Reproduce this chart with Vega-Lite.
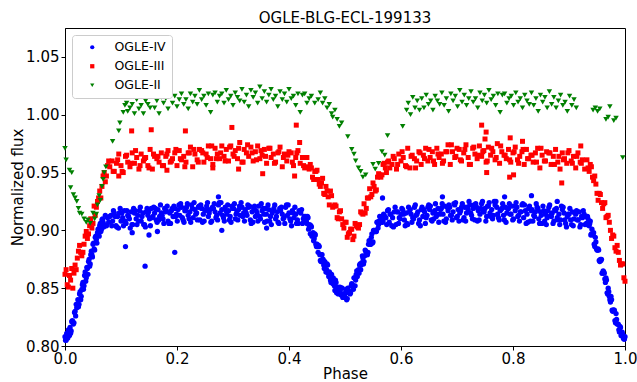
{
"$schema": "https://vega.github.io/schema/vega-lite/v6.json",
"width": 560, "height": 318,
"autosize": {"type": "none"},
"padding": {"left": 65, "top": 28, "right": 12, "bottom": 36},
"background": "white",
"title": {"text": "OGLE-BLG-ECL-199133", "fontSize": 15, "font": "DejaVu Sans", "fontWeight": "normal", "color": "black", "offset": 2, "anchor": "middle"},
"config": {
 "view": {"stroke": "black", "strokeWidth": 1},
 "axis": {"grid": false, "domainColor": "black", "tickColor": "black", "tickSize": 4, "labelColor": "black", "labelFont": "DejaVu Sans", "labelFontSize": 15, "titleFont": "DejaVu Sans", "titleFontSize": 15, "titleFontWeight": "normal", "titleColor": "black", "labelPadding": 2, "labelFlush": false, "labelOverlap": false},
 "legend": {"padding": 6, "rowPadding": 6, "symbolSize": 18, "labelFontSize": 12.5, "labelFont": "DejaVu Sans", "labelColor": "black", "strokeColor": "#cccccc", "fillColor": "white", "cornerRadius": 3, "symbolOffset": 8, "labelOffset": 16}
},
"datasets": {
"iv": [
{"p":0,"f":0.808},{"p":0.002,"f":0.805},{"p":0.004,"f":0.809},{"p":0.006,"f":0.814},{"p":0.008,"f":0.809},{"p":0.01,"f":0.811},{"p":0.012,"f":0.821},{"p":0.014,"f":0.821},{"p":0.016,"f":0.82},{"p":0.018,"f":0.83},{"p":0.02,"f":0.836},{"p":0.022,"f":0.834},{"p":0.024,"f":0.834},{"p":0.026,"f":0.845},{"p":0.028,"f":0.84},{"p":0.03,"f":0.849},{"p":0.032,"f":0.855},{"p":0.034,"f":0.852},{"p":0.036,"f":0.864},{"p":0.038,"f":0.859},{"p":0.04,"f":0.867},{"p":0.042,"f":0.873},{"p":0.044,"f":0.869},{"p":0.046,"f":0.879},{"p":0.048,"f":0.879},{"p":0.05,"f":0.888},{"p":0.052,"f":0.884},{"p":0.054,"f":0.894},{"p":0.056,"f":0.892},{"p":0.058,"f":0.898},{"p":0.06,"f":0.896},{"p":0.062,"f":0.904},{"p":0.064,"f":0.899},{"p":0.066,"f":0.909},{"p":0.068,"f":0.907},{"p":0.07,"f":0.905},{"p":0.072,"f":0.913},{"p":0.074,"f":0.904},{"p":0.076,"f":0.911},{"p":0.078,"f":0.907},{"p":0.08,"f":0.912},
{"p":0.001,"f":0.805},{"p":0.003,"f":0.811},{"p":0.005,"f":0.807},{"p":0.007,"f":0.813},{"p":0.009,"f":0.816},{"p":0.011,"f":0.813},{"p":0.013,"f":0.822},{"p":0.015,"f":0.819},{"p":0.017,"f":0.829},{"p":0.019,"f":0.826},{"p":0.021,"f":0.833},{"p":0.023,"f":0.84},{"p":0.025,"f":0.836},{"p":0.027,"f":0.847},{"p":0.029,"f":0.843},{"p":0.031,"f":0.853},{"p":0.033,"f":0.849},{"p":0.035,"f":0.861},{"p":0.037,"f":0.856},{"p":0.039,"f":0.868},{"p":0.041,"f":0.862},{"p":0.043,"f":0.875},{"p":0.045,"f":0.871},{"p":0.047,"f":0.882},{"p":0.049,"f":0.877},{"p":0.051,"f":0.889},{"p":0.053,"f":0.883},{"p":0.055,"f":0.895},{"p":0.057,"f":0.889},{"p":0.059,"f":0.901},{"p":0.061,"f":0.895},{"p":0.063,"f":0.906},{"p":0.065,"f":0.901},{"p":0.067,"f":0.91},{"p":0.069,"f":0.903},
{"p":0.082,"f":0.913},{"p":0.085,"f":0.908},{"p":0.088,"f":0.915},{"p":0.091,"f":0.904},{"p":0.094,"f":0.912},{"p":0.097,"f":0.915},{"p":0.1,"f":0.908},{"p":0.103,"f":0.911},{"p":0.106,"f":0.917},{"p":0.109,"f":0.906},{"p":0.112,"f":0.913},{"p":0.115,"f":0.91},{"p":0.118,"f":0.916},{"p":0.121,"f":0.905},{"p":0.124,"f":0.915},{"p":0.127,"f":0.91},{"p":0.13,"f":0.913},{"p":0.133,"f":0.917},{"p":0.136,"f":0.908},{"p":0.139,"f":0.915},{"p":0.142,"f":0.905},{"p":0.145,"f":0.916},{"p":0.148,"f":0.913},{"p":0.151,"f":0.91},{"p":0.154,"f":0.919},{"p":0.157,"f":0.912},{"p":0.16,"f":0.915},{"p":0.163,"f":0.909},{"p":0.166,"f":0.918},{"p":0.169,"f":0.912},{"p":0.172,"f":0.915},{"p":0.175,"f":0.91},{"p":0.178,"f":0.919},{"p":0.181,"f":0.917},{"p":0.184,"f":0.908},{"p":0.187,"f":0.915},{"p":0.19,"f":0.917},{"p":0.193,"f":0.912},{"p":0.196,"f":0.919},{"p":0.199,"f":0.914},{"p":0.202,"f":0.918},{"p":0.205,"f":0.913},{"p":0.208,"f":0.92},{"p":0.211,"f":0.909},{"p":0.214,"f":0.917},{"p":0.217,"f":0.92},{"p":0.22,"f":0.913},{"p":0.223,"f":0.916},{"p":0.226,"f":0.922},{"p":0.229,"f":0.911},{"p":0.232,"f":0.918},{"p":0.235,"f":0.915},{"p":0.238,"f":0.92},{"p":0.241,"f":0.909},{"p":0.244,"f":0.919},{"p":0.247,"f":0.914},{"p":0.25,"f":0.917},{"p":0.253,"f":0.921},{"p":0.256,"f":0.912},{"p":0.259,"f":0.918},{"p":0.262,"f":0.908},{"p":0.265,"f":0.919},{"p":0.268,"f":0.916},{"p":0.271,"f":0.913},{"p":0.274,"f":0.922},{"p":0.277,"f":0.915},{"p":0.28,"f":0.918},{"p":0.283,"f":0.911},{"p":0.286,"f":0.92},{"p":0.289,"f":0.914},{"p":0.292,"f":0.917},{"p":0.295,"f":0.912},{"p":0.298,"f":0.921},{"p":0.301,"f":0.919},{"p":0.304,"f":0.91},{"p":0.307,"f":0.916},{"p":0.31,"f":0.918},{"p":0.313,"f":0.913},{"p":0.316,"f":0.92},{"p":0.319,"f":0.915},{"p":0.322,"f":0.918},{"p":0.325,"f":0.913},{"p":0.328,"f":0.92},{"p":0.331,"f":0.909},{"p":0.334,"f":0.916},{"p":0.337,"f":0.919},{"p":0.34,"f":0.912},{"p":0.343,"f":0.915},{"p":0.346,"f":0.921},{"p":0.349,"f":0.91},{"p":0.352,"f":0.917},{"p":0.355,"f":0.914},{"p":0.358,"f":0.919},{"p":0.361,"f":0.908},{"p":0.364,"f":0.918},{"p":0.367,"f":0.912},{"p":0.37,"f":0.915},{"p":0.373,"f":0.919},{"p":0.376,"f":0.91},{"p":0.379,"f":0.916},{"p":0.382,"f":0.906},{"p":0.385,"f":0.917},{"p":0.388,"f":0.914},{"p":0.391,"f":0.911},{"p":0.394,"f":0.92},{"p":0.397,"f":0.913},{"p":0.4,"f":0.915},{"p":0.403,"f":0.908},{"p":0.406,"f":0.917},{"p":0.409,"f":0.911},{"p":0.412,"f":0.914},{"p":0.415,"f":0.909},{"p":0.418,"f":0.917},{"p":0.421,"f":0.915},{"p":0.424,"f":0.906},{"p":0.427,"f":0.912},
{"p":0.0835,"f":0.904},{"p":0.0895,"f":0.912},{"p":0.0955,"f":0.902},{"p":0.1015,"f":0.915},{"p":0.1075,"f":0.908},{"p":0.1135,"f":0.912},{"p":0.1195,"f":0.905},{"p":0.1255,"f":0.917},{"p":0.1315,"f":0.908},{"p":0.1375,"f":0.912},{"p":0.1435,"f":0.903},{"p":0.1495,"f":0.916},{"p":0.1555,"f":0.911},{"p":0.1615,"f":0.919},{"p":0.1675,"f":0.909},{"p":0.1735,"f":0.913},{"p":0.1795,"f":0.916},{"p":0.1855,"f":0.906},{"p":0.1915,"f":0.919},{"p":0.1975,"f":0.912},{"p":0.2035,"f":0.922},{"p":0.2095,"f":0.911},{"p":0.2155,"f":0.917},{"p":0.2215,"f":0.91},{"p":0.2275,"f":0.919},{"p":0.2335,"f":0.914},{"p":0.2395,"f":0.921},{"p":0.2455,"f":0.907},{"p":0.2515,"f":0.918},{"p":0.2575,"f":0.915},{"p":0.2635,"f":0.92},{"p":0.2695,"f":0.911},{"p":0.2755,"f":0.924},{"p":0.2815,"f":0.913},{"p":0.2875,"f":0.917},{"p":0.2935,"f":0.909},{"p":0.2995,"f":0.919},{"p":0.3055,"f":0.914},{"p":0.3115,"f":0.921},{"p":0.3175,"f":0.912},{"p":0.3235,"f":0.915},{"p":0.3295,"f":0.921},{"p":0.3355,"f":0.907},{"p":0.3415,"f":0.917},{"p":0.3475,"f":0.912},{"p":0.3535,"f":0.919},{"p":0.3595,"f":0.914},{"p":0.3655,"f":0.908},{"p":0.3715,"f":0.917},{"p":0.3775,"f":0.912},{"p":0.3835,"f":0.919},{"p":0.3895,"f":0.91},{"p":0.3955,"f":0.922},{"p":0.4015,"f":0.91},{"p":0.4075,"f":0.915},{"p":0.4135,"f":0.906},{"p":0.4195,"f":0.916},{"p":0.4255,"f":0.91},
{"p":0.0865,"f":0.917},{"p":0.0925,"f":0.903},{"p":0.0985,"f":0.919},{"p":0.1045,"f":0.904},{"p":0.1105,"f":0.917},{"p":0.1165,"f":0.902},{"p":0.1225,"f":0.919},{"p":0.1285,"f":0.905},{"p":0.1345,"f":0.92},{"p":0.1405,"f":0.905},{"p":0.1465,"f":0.919},{"p":0.1525,"f":0.904},{"p":0.1585,"f":0.92},{"p":0.1645,"f":0.907},{"p":0.1705,"f":0.922},{"p":0.1765,"f":0.906},{"p":0.1825,"f":0.921},{"p":0.1885,"f":0.906},{"p":0.1945,"f":0.921},{"p":0.2005,"f":0.908},{"p":0.2065,"f":0.923},{"p":0.2125,"f":0.907},{"p":0.2185,"f":0.923},{"p":0.2245,"f":0.907},{"p":0.2305,"f":0.924},{"p":0.2365,"f":0.909},{"p":0.2425,"f":0.922},{"p":0.2485,"f":0.908},{"p":0.2545,"f":0.924},{"p":0.2605,"f":0.907},{"p":0.2665,"f":0.923},{"p":0.2725,"f":0.909},{"p":0.2785,"f":0.924},{"p":0.2845,"f":0.908},{"p":0.2905,"f":0.922},{"p":0.2965,"f":0.907},{"p":0.3025,"f":0.923},{"p":0.3085,"f":0.909},{"p":0.3145,"f":0.924},{"p":0.3205,"f":0.908},{"p":0.3265,"f":0.922},{"p":0.3325,"f":0.906},{"p":0.3385,"f":0.921},{"p":0.3445,"f":0.908},{"p":0.3505,"f":0.923},{"p":0.3565,"f":0.907},{"p":0.3625,"f":0.922},{"p":0.3685,"f":0.905},{"p":0.3745,"f":0.922},{"p":0.3805,"f":0.907},{"p":0.3865,"f":0.92},{"p":0.3925,"f":0.906},{"p":0.3985,"f":0.922},{"p":0.4045,"f":0.904},{"p":0.4105,"f":0.92},{"p":0.4165,"f":0.906},{"p":0.4225,"f":0.918},
{"p":0.108,"f":0.886},{"p":0.196,"f":0.881},{"p":0.143,"f":0.869},{"p":0.12,"f":0.898},{"p":0.15,"f":0.896},{"p":0.165,"f":0.899},{"p":0.28,"f":0.9},{"p":0.36,"f":0.902},{"p":0.274,"f":0.929},{"p":0.567,"f":0.928},{"p":0.674,"f":0.929},{"p":0.785,"f":0.929},{"p":0.833,"f":0.93},{"p":0.879,"f":0.925},
{"p":0.43,"f":0.912},{"p":0.432,"f":0.906},{"p":0.434,"f":0.911},{"p":0.436,"f":0.904},{"p":0.438,"f":0.897},{"p":0.44,"f":0.903},{"p":0.442,"f":0.897},{"p":0.444,"f":0.891},{"p":0.446,"f":0.897},{"p":0.448,"f":0.888},{"p":0.45,"f":0.888},{"p":0.452,"f":0.881},{"p":0.454,"f":0.886},{"p":0.456,"f":0.874},{"p":0.458,"f":0.879},{"p":0.46,"f":0.875},{"p":0.462,"f":0.87},{"p":0.464,"f":0.873},{"p":0.466,"f":0.864},{"p":0.468,"f":0.871},{"p":0.47,"f":0.863},{"p":0.472,"f":0.864},{"p":0.474,"f":0.857},{"p":0.476,"f":0.862},{"p":0.478,"f":0.854},{"p":0.48,"f":0.856},{"p":0.482,"f":0.848},{"p":0.484,"f":0.855},{"p":0.486,"f":0.85},{"p":0.488,"f":0.845},{"p":0.49,"f":0.85},{"p":0.492,"f":0.846},{"p":0.494,"f":0.85},{"p":0.496,"f":0.842},{"p":0.498,"f":0.845},{"p":0.5,"f":0.842},{"p":0.502,"f":0.849},{"p":0.504,"f":0.841},{"p":0.506,"f":0.848},{"p":0.508,"f":0.847},{"p":0.51,"f":0.846},{"p":0.512,"f":0.854},{"p":0.514,"f":0.852},{"p":0.516,"f":0.859},{"p":0.518,"f":0.852},{"p":0.52,"f":0.862},{"p":0.522,"f":0.86},{"p":0.524,"f":0.866},{"p":0.526,"f":0.87},{"p":0.528,"f":0.866},{"p":0.53,"f":0.872},{"p":0.532,"f":0.876},{"p":0.534,"f":0.873},{"p":0.536,"f":0.883},{"p":0.538,"f":0.879},{"p":0.54,"f":0.879},{"p":0.542,"f":0.888},{"p":0.544,"f":0.889},{"p":0.546,"f":0.888},{"p":0.548,"f":0.897},{"p":0.55,"f":0.89},{"p":0.552,"f":0.9},{"p":0.554,"f":0.9},{"p":0.556,"f":0.899},{"p":0.558,"f":0.907},{"p":0.56,"f":0.905},{"p":0.562,"f":0.912},{"p":0.564,"f":0.907},{"p":0.566,"f":0.911},{"p":0.568,"f":0.908},{"p":0.57,"f":0.913},
{"p":0.431,"f":0.908},{"p":0.433,"f":0.912},{"p":0.435,"f":0.901},{"p":0.437,"f":0.905},{"p":0.439,"f":0.904},{"p":0.441,"f":0.895},{"p":0.443,"f":0.898},{"p":0.445,"f":0.893},{"p":0.447,"f":0.896},{"p":0.449,"f":0.886},{"p":0.451,"f":0.886},{"p":0.453,"f":0.887},{"p":0.455,"f":0.879},{"p":0.457,"f":0.873},{"p":0.459,"f":0.879},{"p":0.461,"f":0.875},{"p":0.463,"f":0.867},{"p":0.465,"f":0.871},{"p":0.467,"f":0.866},{"p":0.469,"f":0.87},{"p":0.471,"f":0.86},{"p":0.473,"f":0.863},{"p":0.475,"f":0.855},{"p":0.477,"f":0.857},{"p":0.479,"f":0.859},{"p":0.481,"f":0.852},{"p":0.483,"f":0.857},{"p":0.485,"f":0.846},{"p":0.487,"f":0.851},{"p":0.489,"f":0.848},{"p":0.491,"f":0.851},{"p":0.493,"f":0.844},{"p":0.495,"f":0.85},{"p":0.497,"f":0.843},{"p":0.499,"f":0.844},{"p":0.501,"f":0.846},{"p":0.503,"f":0.84},{"p":0.505,"f":0.85},{"p":0.507,"f":0.846},{"p":0.509,"f":0.845},{"p":0.511,"f":0.852},{"p":0.513,"f":0.853},{"p":0.515,"f":0.849},{"p":0.517,"f":0.859},{"p":0.519,"f":0.857},{"p":0.521,"f":0.865},{"p":0.523,"f":0.864},{"p":0.525,"f":0.863},{"p":0.527,"f":0.871},{"p":0.529,"f":0.87},{"p":0.531,"f":0.878},{"p":0.533,"f":0.871},{"p":0.535,"f":0.878},{"p":0.537,"f":0.882},{"p":0.539,"f":0.88},{"p":0.541,"f":0.881},{"p":0.543,"f":0.891},{"p":0.545,"f":0.888},{"p":0.547,"f":0.894},{"p":0.549,"f":0.889},{"p":0.551,"f":0.9},{"p":0.553,"f":0.899},{"p":0.555,"f":0.899},{"p":0.557,"f":0.907},{"p":0.559,"f":0.902},{"p":0.561,"f":0.908},{"p":0.563,"f":0.908},{"p":0.565,"f":0.912},{"p":0.567,"f":0.907},{"p":0.569,"f":0.914},
{"p":0.573,"f":0.911},{"p":0.576,"f":0.917},{"p":0.579,"f":0.907},{"p":0.582,"f":0.914},{"p":0.585,"f":0.911},{"p":0.588,"f":0.916},{"p":0.591,"f":0.905},{"p":0.594,"f":0.916},{"p":0.597,"f":0.911},{"p":0.6,"f":0.914},{"p":0.603,"f":0.918},{"p":0.606,"f":0.909},{"p":0.609,"f":0.915},{"p":0.612,"f":0.905},{"p":0.615,"f":0.916},{"p":0.618,"f":0.914},{"p":0.621,"f":0.911},{"p":0.624,"f":0.92},{"p":0.627,"f":0.913},{"p":0.63,"f":0.916},{"p":0.633,"f":0.909},{"p":0.636,"f":0.918},{"p":0.639,"f":0.912},{"p":0.642,"f":0.916},{"p":0.645,"f":0.911},{"p":0.648,"f":0.92},{"p":0.651,"f":0.918},{"p":0.654,"f":0.909},{"p":0.657,"f":0.915},{"p":0.66,"f":0.917},{"p":0.663,"f":0.912},{"p":0.666,"f":0.919},{"p":0.669,"f":0.914},{"p":0.672,"f":0.919},{"p":0.675,"f":0.914},{"p":0.678,"f":0.921},{"p":0.681,"f":0.91},{"p":0.684,"f":0.917},{"p":0.687,"f":0.92},{"p":0.69,"f":0.913},{"p":0.693,"f":0.916},{"p":0.696,"f":0.922},{"p":0.699,"f":0.911},{"p":0.702,"f":0.918},{"p":0.705,"f":0.915},{"p":0.708,"f":0.92},{"p":0.711,"f":0.909},{"p":0.714,"f":0.92},{"p":0.717,"f":0.915},{"p":0.72,"f":0.918},{"p":0.723,"f":0.922},{"p":0.726,"f":0.913},{"p":0.729,"f":0.919},{"p":0.732,"f":0.909},{"p":0.735,"f":0.92},{"p":0.738,"f":0.917},{"p":0.741,"f":0.914},{"p":0.744,"f":0.923},{"p":0.747,"f":0.916},{"p":0.75,"f":0.919},{"p":0.753,"f":0.912},{"p":0.756,"f":0.921},{"p":0.759,"f":0.915},{"p":0.762,"f":0.918},{"p":0.765,"f":0.913},{"p":0.768,"f":0.922},{"p":0.771,"f":0.92},{"p":0.774,"f":0.911},{"p":0.777,"f":0.917},{"p":0.78,"f":0.919},{"p":0.783,"f":0.913},{"p":0.786,"f":0.92},{"p":0.789,"f":0.915},{"p":0.792,"f":0.919},{"p":0.795,"f":0.914},{"p":0.798,"f":0.921},{"p":0.801,"f":0.91},{"p":0.804,"f":0.917},{"p":0.807,"f":0.92},{"p":0.81,"f":0.913},{"p":0.813,"f":0.916},{"p":0.816,"f":0.922},{"p":0.819,"f":0.911},{"p":0.822,"f":0.917},{"p":0.825,"f":0.914},{"p":0.828,"f":0.919},{"p":0.831,"f":0.908},{"p":0.834,"f":0.918},{"p":0.837,"f":0.913},{"p":0.84,"f":0.916},{"p":0.843,"f":0.92},{"p":0.846,"f":0.91},{"p":0.849,"f":0.916},{"p":0.852,"f":0.906},{"p":0.855,"f":0.917},{"p":0.858,"f":0.914},{"p":0.861,"f":0.911},{"p":0.864,"f":0.92},{"p":0.867,"f":0.913},{"p":0.87,"f":0.915},{"p":0.873,"f":0.908},{"p":0.876,"f":0.917},{"p":0.879,"f":0.911},{"p":0.882,"f":0.914},{"p":0.885,"f":0.909},{"p":0.888,"f":0.918},{"p":0.891,"f":0.915},{"p":0.894,"f":0.906},{"p":0.897,"f":0.912},{"p":0.9,"f":0.914},{"p":0.903,"f":0.909},{"p":0.906,"f":0.916},{"p":0.909,"f":0.91},{"p":0.912,"f":0.914},{"p":0.915,"f":0.909},{"p":0.918,"f":0.916},{"p":0.921,"f":0.905},{"p":0.924,"f":0.911},{"p":0.927,"f":0.914},
{"p":0.5745,"f":0.905},{"p":0.5805,"f":0.914},{"p":0.5865,"f":0.903},{"p":0.5925,"f":0.916},{"p":0.5985,"f":0.91},{"p":0.6045,"f":0.914},{"p":0.6105,"f":0.906},{"p":0.6165,"f":0.918},{"p":0.6225,"f":0.91},{"p":0.6285,"f":0.914},{"p":0.6345,"f":0.904},{"p":0.6405,"f":0.918},{"p":0.6465,"f":0.913},{"p":0.6525,"f":0.921},{"p":0.6585,"f":0.91},{"p":0.6645,"f":0.914},{"p":0.6705,"f":0.918},{"p":0.6765,"f":0.908},{"p":0.6825,"f":0.92},{"p":0.6885,"f":0.913},{"p":0.6945,"f":0.923},{"p":0.7005,"f":0.912},{"p":0.7065,"f":0.917},{"p":0.7125,"f":0.911},{"p":0.7185,"f":0.92},{"p":0.7245,"f":0.915},{"p":0.7305,"f":0.922},{"p":0.7365,"f":0.908},{"p":0.7425,"f":0.919},{"p":0.7485,"f":0.916},{"p":0.7545,"f":0.921},{"p":0.7605,"f":0.912},{"p":0.7665,"f":0.925},{"p":0.7725,"f":0.914},{"p":0.7785,"f":0.918},{"p":0.7845,"f":0.909},{"p":0.7905,"f":0.919},{"p":0.7965,"f":0.914},{"p":0.8025,"f":0.921},{"p":0.8085,"f":0.912},{"p":0.8145,"f":0.916},{"p":0.8205,"f":0.922},{"p":0.8265,"f":0.907},{"p":0.8325,"f":0.917},{"p":0.8385,"f":0.912},{"p":0.8445,"f":0.919},{"p":0.8505,"f":0.913},{"p":0.8565,"f":0.908},{"p":0.8625,"f":0.917},{"p":0.8685,"f":0.912},{"p":0.8745,"f":0.918},{"p":0.8805,"f":0.909},{"p":0.8865,"f":0.921},{"p":0.8925,"f":0.909},{"p":0.8985,"f":0.914},{"p":0.9045,"f":0.905},{"p":0.9105,"f":0.915},{"p":0.9165,"f":0.909},{"p":0.9225,"f":0.912},{"p":0.9285,"f":0.905},
{"p":0.5775,"f":0.918},{"p":0.5835,"f":0.904},{"p":0.5895,"f":0.92},{"p":0.5955,"f":0.906},{"p":0.6015,"f":0.919},{"p":0.6075,"f":0.904},{"p":0.6135,"f":0.92},{"p":0.6195,"f":0.907},{"p":0.6255,"f":0.922},{"p":0.6315,"f":0.906},{"p":0.6375,"f":0.92},{"p":0.6435,"f":0.906},{"p":0.6495,"f":0.922},{"p":0.6555,"f":0.908},{"p":0.6615,"f":0.923},{"p":0.6675,"f":0.907},{"p":0.6735,"f":0.923},{"p":0.6795,"f":0.907},{"p":0.6855,"f":0.922},{"p":0.6915,"f":0.909},{"p":0.6975,"f":0.924},{"p":0.7035,"f":0.908},{"p":0.7095,"f":0.923},{"p":0.7155,"f":0.908},{"p":0.7215,"f":0.925},{"p":0.7275,"f":0.91},{"p":0.7335,"f":0.923},{"p":0.7395,"f":0.909},{"p":0.7455,"f":0.925},{"p":0.7515,"f":0.908},{"p":0.7575,"f":0.924},{"p":0.7635,"f":0.91},{"p":0.7695,"f":0.925},{"p":0.7755,"f":0.909},{"p":0.7815,"f":0.923},{"p":0.7875,"f":0.907},{"p":0.7935,"f":0.923},{"p":0.7995,"f":0.909},{"p":0.8055,"f":0.924},{"p":0.8115,"f":0.908},{"p":0.8175,"f":0.923},{"p":0.8235,"f":0.906},{"p":0.8295,"f":0.921},{"p":0.8355,"f":0.908},{"p":0.8415,"f":0.923},{"p":0.8475,"f":0.906},{"p":0.8535,"f":0.921},{"p":0.8595,"f":0.905},{"p":0.8655,"f":0.922},{"p":0.8715,"f":0.906},{"p":0.8775,"f":0.919},{"p":0.8835,"f":0.905},{"p":0.8895,"f":0.92},{"p":0.8955,"f":0.903},{"p":0.9015,"f":0.919},{"p":0.9075,"f":0.904},{"p":0.9135,"f":0.917},{"p":0.9195,"f":0.903},{"p":0.9255,"f":0.917},
{"p":0.93,"f":0.912},{"p":0.932,"f":0.905},{"p":0.934,"f":0.91},{"p":0.936,"f":0.904},{"p":0.938,"f":0.908},{"p":0.94,"f":0.897},{"p":0.942,"f":0.897},{"p":0.944,"f":0.898},{"p":0.946,"f":0.886},{"p":0.948,"f":0.89},{"p":0.95,"f":0.883},{"p":0.952,"f":0.884},{"p":0.954,"f":0.874},{"p":0.956,"f":0.875},{"p":0.958,"f":0.875},{"p":0.96,"f":0.863},{"p":0.962,"f":0.864},{"p":0.964,"f":0.858},{"p":0.966,"f":0.859},{"p":0.968,"f":0.846},{"p":0.97,"f":0.85},{"p":0.972,"f":0.843},{"p":0.974,"f":0.838},{"p":0.976,"f":0.84},{"p":0.978,"f":0.83},{"p":0.98,"f":0.831},{"p":0.982,"f":0.822},{"p":0.984,"f":0.828},{"p":0.986,"f":0.819},{"p":0.988,"f":0.819},{"p":0.99,"f":0.812},{"p":0.992,"f":0.816},{"p":0.994,"f":0.809},{"p":0.996,"f":0.81},{"p":0.998,"f":0.806},{"p":1,"f":0.808},
{"p":0.931,"f":0.906},{"p":0.933,"f":0.912},{"p":0.935,"f":0.905},{"p":0.937,"f":0.906},{"p":0.939,"f":0.896},{"p":0.941,"f":0.901},{"p":0.943,"f":0.896},{"p":0.945,"f":0.888},{"p":0.947,"f":0.894},{"p":0.949,"f":0.884},{"p":0.951,"f":0.883},{"p":0.953,"f":0.883},{"p":0.955,"f":0.873},{"p":0.957,"f":0.874},{"p":0.959,"f":0.863},{"p":0.961,"f":0.865},{"p":0.963,"f":0.863},{"p":0.965,"f":0.855},{"p":0.967,"f":0.857},{"p":0.969,"f":0.845},{"p":0.971,"f":0.847},{"p":0.973,"f":0.84},{"p":0.975,"f":0.843},{"p":0.977,"f":0.831},{"p":0.979,"f":0.831},{"p":0.981,"f":0.831},{"p":0.983,"f":0.82},{"p":0.985,"f":0.823},{"p":0.987,"f":0.819},{"p":0.989,"f":0.814},{"p":0.991,"f":0.817},{"p":0.993,"f":0.809},{"p":0.995,"f":0.812},{"p":0.997,"f":0.807},{"p":0.999,"f":0.806}
],
"iii": [
{"p":0,"f":0.862},{"p":0.004,"f":0.853},{"p":0.008,"f":0.861},{"p":0.012,"f":0.867},{"p":0.016,"f":0.863},{"p":0.02,"f":0.866},{"p":0.024,"f":0.882},{"p":0.028,"f":0.881},{"p":0.032,"f":0.881},{"p":0.036,"f":0.895},{"p":0.04,"f":0.893},{"p":0.044,"f":0.904},{"p":0.048,"f":0.902},{"p":0.052,"f":0.921},{"p":0.056,"f":0.92},{"p":0.06,"f":0.928},{"p":0.064,"f":0.928},{"p":0.068,"f":0.947},{"p":0.072,"f":0.942},{"p":0.076,"f":0.956},{"p":0.08,"f":0.955},
{"p":0.002,"f":0.866},{"p":0.006,"f":0.851},{"p":0.01,"f":0.857},{"p":0.014,"f":0.85},{"p":0.018,"f":0.87},{"p":0.022,"f":0.876},{"p":0.026,"f":0.887},{"p":0.03,"f":0.878},{"p":0.034,"f":0.888},{"p":0.038,"f":0.899},{"p":0.042,"f":0.897},{"p":0.046,"f":0.91},{"p":0.05,"f":0.906},{"p":0.054,"f":0.913},{"p":0.058,"f":0.925},{"p":0.062,"f":0.934},{"p":0.066,"f":0.938},{"p":0.07,"f":0.95},{"p":0.074,"f":0.947},{"p":0.078,"f":0.96},
{"p":0.084,"f":0.96},{"p":0.088,"f":0.951},{"p":0.092,"f":0.958},{"p":0.096,"f":0.966},{"p":0.1,"f":0.956},{"p":0.104,"f":0.95},{"p":0.108,"f":0.964},{"p":0.112,"f":0.959},{"p":0.116,"f":0.955},{"p":0.12,"f":0.967},{"p":0.124,"f":0.958},{"p":0.128,"f":0.963},{"p":0.132,"f":0.953},{"p":0.136,"f":0.966},{"p":0.14,"f":0.96},{"p":0.144,"f":0.963},{"p":0.148,"f":0.956},{"p":0.152,"f":0.97},{"p":0.156,"f":0.953},{"p":0.16,"f":0.964},{"p":0.164,"f":0.962},{"p":0.168,"f":0.959},{"p":0.172,"f":0.967},{"p":0.176,"f":0.956},{"p":0.18,"f":0.964},{"p":0.184,"f":0.969},{"p":0.188,"f":0.959},{"p":0.192,"f":0.962},{"p":0.196,"f":0.967},{"p":0.2,"f":0.956},{"p":0.204,"f":0.969},{"p":0.208,"f":0.961},{"p":0.212,"f":0.964},{"p":0.216,"f":0.959},{"p":0.22,"f":0.967},{"p":0.224,"f":0.972},{"p":0.228,"f":0.955},{"p":0.232,"f":0.966},{"p":0.236,"f":0.961},{"p":0.24,"f":0.97},{"p":0.244,"f":0.969},{"p":0.248,"f":0.959},{"p":0.252,"f":0.966},{"p":0.256,"f":0.973},{"p":0.26,"f":0.962},{"p":0.264,"f":0.957},{"p":0.268,"f":0.971},{"p":0.272,"f":0.966},{"p":0.276,"f":0.962},{"p":0.28,"f":0.973},{"p":0.284,"f":0.964},{"p":0.288,"f":0.97},{"p":0.292,"f":0.96},{"p":0.296,"f":0.973},{"p":0.3,"f":0.966},{"p":0.304,"f":0.969},{"p":0.308,"f":0.962},{"p":0.312,"f":0.976},{"p":0.316,"f":0.959},{"p":0.32,"f":0.97},{"p":0.324,"f":0.967},{"p":0.328,"f":0.964},{"p":0.332,"f":0.972},{"p":0.336,"f":0.96},{"p":0.34,"f":0.968},{"p":0.344,"f":0.973},{"p":0.348,"f":0.962},{"p":0.352,"f":0.965},{"p":0.356,"f":0.97},{"p":0.36,"f":0.958},{"p":0.364,"f":0.971},{"p":0.368,"f":0.963},{"p":0.372,"f":0.966},{"p":0.376,"f":0.959},{"p":0.38,"f":0.967},{"p":0.384,"f":0.972},{"p":0.388,"f":0.955},{"p":0.392,"f":0.966},{"p":0.396,"f":0.96},{"p":0.4,"f":0.968},{"p":0.404,"f":0.967},{"p":0.408,"f":0.956},{"p":0.412,"f":0.963},{"p":0.416,"f":0.969},{"p":0.42,"f":0.958},
{"p":0.086,"f":0.951},{"p":0.094,"f":0.961},{"p":0.102,"f":0.951},{"p":0.11,"f":0.965},{"p":0.118,"f":0.958},{"p":0.126,"f":0.969},{"p":0.134,"f":0.956},{"p":0.142,"f":0.962},{"p":0.15,"f":0.954},{"p":0.158,"f":0.966},{"p":0.166,"f":0.964},{"p":0.174,"f":0.956},{"p":0.182,"f":0.966},{"p":0.19,"f":0.96},{"p":0.198,"f":0.97},{"p":0.206,"f":0.962},{"p":0.214,"f":0.955},{"p":0.222,"f":0.967},{"p":0.23,"f":0.97},{"p":0.238,"f":0.959},{"p":0.246,"f":0.967},{"p":0.254,"f":0.963},{"p":0.262,"f":0.973},{"p":0.27,"f":0.962},{"p":0.278,"f":0.967},{"p":0.286,"f":0.96},{"p":0.294,"f":0.972},{"p":0.302,"f":0.964},{"p":0.31,"f":0.971},{"p":0.318,"f":0.959},{"p":0.326,"f":0.974},{"p":0.334,"f":0.967},{"p":0.342,"f":0.961},{"p":0.35,"f":0.969},{"p":0.358,"f":0.964},{"p":0.366,"f":0.971},{"p":0.374,"f":0.958},{"p":0.382,"f":0.968},{"p":0.39,"f":0.963},{"p":0.398,"f":0.965},{"p":0.406,"f":0.959},{"p":0.414,"f":0.967},
{"p":0.119,"f":0.986},{"p":0.154,"f":0.987},{"p":0.215,"f":0.986},{"p":0.298,"f":0.989},{"p":0.413,"f":0.991},{"p":0.419,"f":0.976},{"p":0.31,"f":0.953},{"p":0.41,"f":0.947},{"p":0.353,"f":0.949},{"p":0.096,"f":0.947},{"p":0.182,"f":0.952},{"p":0.264,"f":0.954},{"p":0.744,"f":0.991},{"p":0.752,"f":0.985},{"p":0.75,"f":0.979},{"p":0.753,"f":0.95},{"p":0.794,"f":0.946},{"p":0.801,"f":0.948},{"p":0.887,"f":0.941},{"p":0.795,"f":0.98},{"p":0.817,"f":0.977},{"p":0.921,"f":0.973},
{"p":0.424,"f":0.963},{"p":0.428,"f":0.954},{"p":0.432,"f":0.963},{"p":0.436,"f":0.953},{"p":0.44,"f":0.954},{"p":0.444,"f":0.944},{"p":0.448,"f":0.951},{"p":0.452,"f":0.944},{"p":0.456,"f":0.938},{"p":0.46,"f":0.945},{"p":0.464,"f":0.931},{"p":0.468,"f":0.934},{"p":0.472,"f":0.922},{"p":0.476,"f":0.93},{"p":0.48,"f":0.921},{"p":0.484,"f":0.921},{"p":0.488,"f":0.91},{"p":0.492,"f":0.917},{"p":0.496,"f":0.905},{"p":0.5,"f":0.907},{"p":0.504,"f":0.894},{"p":0.508,"f":0.898},{"p":0.512,"f":0.901},{"p":0.516,"f":0.895},{"p":0.52,"f":0.904},{"p":0.524,"f":0.902},{"p":0.528,"f":0.916},{"p":0.532,"f":0.914},{"p":0.536,"f":0.915},{"p":0.54,"f":0.928},{"p":0.544,"f":0.936},{"p":0.548,"f":0.931},{"p":0.552,"f":0.938},{"p":0.556,"f":0.935},{"p":0.56,"f":0.949},{"p":0.564,"f":0.946},{"p":0.568,"f":0.957},{"p":0.572,"f":0.954},{"p":0.576,"f":0.959},{"p":0.58,"f":0.954},
{"p":0.426,"f":0.956},{"p":0.43,"f":0.963},{"p":0.434,"f":0.955},{"p":0.438,"f":0.957},{"p":0.442,"f":0.946},{"p":0.446,"f":0.951},{"p":0.45,"f":0.952},{"p":0.454,"f":0.94},{"p":0.458,"f":0.941},{"p":0.462,"f":0.932},{"p":0.466,"f":0.938},{"p":0.47,"f":0.929},{"p":0.474,"f":0.934},{"p":0.478,"f":0.92},{"p":0.482,"f":0.922},{"p":0.486,"f":0.911},{"p":0.49,"f":0.916},{"p":0.494,"f":0.91},{"p":0.498,"f":0.902},{"p":0.502,"f":0.907},{"p":0.506,"f":0.897},{"p":0.51,"f":0.901},{"p":0.514,"f":0.892},{"p":0.518,"f":0.906},{"p":0.522,"f":0.903},{"p":0.526,"f":0.905},{"p":0.53,"f":0.915},{"p":0.534,"f":0.923},{"p":0.538,"f":0.919},{"p":0.542,"f":0.928},{"p":0.546,"f":0.929},{"p":0.55,"f":0.941},{"p":0.554,"f":0.934},{"p":0.558,"f":0.946},{"p":0.562,"f":0.948},{"p":0.566,"f":0.948},{"p":0.57,"f":0.958},{"p":0.574,"f":0.95},{"p":0.578,"f":0.96},
{"p":0.584,"f":0.957},{"p":0.588,"f":0.962},{"p":0.592,"f":0.953},{"p":0.596,"f":0.966},{"p":0.6,"f":0.96},{"p":0.604,"f":0.963},{"p":0.608,"f":0.956},{"p":0.612,"f":0.971},{"p":0.616,"f":0.954},{"p":0.62,"f":0.965},{"p":0.624,"f":0.962},{"p":0.628,"f":0.96},{"p":0.632,"f":0.968},{"p":0.636,"f":0.957},{"p":0.64,"f":0.965},{"p":0.644,"f":0.971},{"p":0.648,"f":0.96},{"p":0.652,"f":0.963},{"p":0.656,"f":0.968},{"p":0.66,"f":0.957},{"p":0.664,"f":0.971},{"p":0.668,"f":0.963},{"p":0.672,"f":0.966},{"p":0.676,"f":0.96},{"p":0.68,"f":0.968},{"p":0.684,"f":0.974},{"p":0.688,"f":0.957},{"p":0.692,"f":0.968},{"p":0.696,"f":0.963},{"p":0.7,"f":0.971},{"p":0.704,"f":0.97},{"p":0.708,"f":0.96},{"p":0.712,"f":0.967},{"p":0.716,"f":0.974},{"p":0.72,"f":0.963},{"p":0.724,"f":0.957},{"p":0.728,"f":0.971},{"p":0.732,"f":0.966},{"p":0.736,"f":0.962},{"p":0.74,"f":0.973},{"p":0.744,"f":0.964},{"p":0.748,"f":0.969},{"p":0.752,"f":0.959},{"p":0.756,"f":0.972},{"p":0.76,"f":0.965},{"p":0.764,"f":0.968},{"p":0.768,"f":0.961},{"p":0.772,"f":0.975},{"p":0.776,"f":0.958},{"p":0.78,"f":0.968},{"p":0.784,"f":0.965},{"p":0.788,"f":0.962},{"p":0.792,"f":0.97},{"p":0.796,"f":0.959},{"p":0.8,"f":0.967},{"p":0.804,"f":0.972},{"p":0.808,"f":0.961},{"p":0.812,"f":0.964},{"p":0.816,"f":0.968},{"p":0.82,"f":0.957},{"p":0.824,"f":0.97},{"p":0.828,"f":0.962},{"p":0.832,"f":0.965},{"p":0.836,"f":0.959},{"p":0.84,"f":0.967},{"p":0.844,"f":0.971},{"p":0.848,"f":0.954},{"p":0.852,"f":0.965},{"p":0.856,"f":0.96},{"p":0.86,"f":0.968},{"p":0.864,"f":0.967},{"p":0.868,"f":0.957},{"p":0.872,"f":0.964},{"p":0.876,"f":0.97},{"p":0.88,"f":0.959},{"p":0.884,"f":0.953},{"p":0.888,"f":0.967},{"p":0.892,"f":0.962},{"p":0.896,"f":0.958},{"p":0.9,"f":0.969},{"p":0.904,"f":0.96},{"p":0.908,"f":0.964},{"p":0.912,"f":0.954},{"p":0.916,"f":0.967},{"p":0.92,"f":0.959},{"p":0.924,"f":0.961},{"p":0.928,"f":0.953},
{"p":0.586,"f":0.964},{"p":0.594,"f":0.957},{"p":0.602,"f":0.968},{"p":0.61,"f":0.955},{"p":0.618,"f":0.964},{"p":0.626,"f":0.954},{"p":0.634,"f":0.967},{"p":0.642,"f":0.962},{"p":0.65,"f":0.97},{"p":0.658,"f":0.96},{"p":0.666,"f":0.966},{"p":0.674,"f":0.958},{"p":0.682,"f":0.968},{"p":0.69,"f":0.974},{"p":0.698,"f":0.964},{"p":0.706,"f":0.961},{"p":0.714,"f":0.97},{"p":0.722,"f":0.957},{"p":0.73,"f":0.972},{"p":0.738,"f":0.965},{"p":0.746,"f":0.968},{"p":0.754,"f":0.96},{"p":0.762,"f":0.971},{"p":0.77,"f":0.963},{"p":0.778,"f":0.973},{"p":0.786,"f":0.965},{"p":0.794,"f":0.961},{"p":0.802,"f":0.968},{"p":0.81,"f":0.958},{"p":0.818,"f":0.97},{"p":0.826,"f":0.962},{"p":0.834,"f":0.965},{"p":0.842,"f":0.959},{"p":0.85,"f":0.971},{"p":0.858,"f":0.96},{"p":0.866,"f":0.967},{"p":0.874,"f":0.957},{"p":0.882,"f":0.964},{"p":0.89,"f":0.961},{"p":0.898,"f":0.967},{"p":0.906,"f":0.958},{"p":0.914,"f":0.964},{"p":0.922,"f":0.958},
{"p":0.932,"f":0.961},{"p":0.936,"f":0.951},{"p":0.94,"f":0.955},{"p":0.944,"f":0.943},{"p":0.948,"f":0.94},{"p":0.952,"f":0.926},{"p":0.956,"f":0.931},{"p":0.96,"f":0.919},{"p":0.964,"f":0.924},{"p":0.968,"f":0.912},{"p":0.972,"f":0.907},{"p":0.976,"f":0.893},{"p":0.98,"f":0.895},{"p":0.984,"f":0.882},{"p":0.988,"f":0.881},{"p":0.992,"f":0.87},{"p":0.996,"f":0.871},{"p":1,"f":0.856},
{"p":0.934,"f":0.954},{"p":0.938,"f":0.957},{"p":0.942,"f":0.946},{"p":0.946,"f":0.947},{"p":0.95,"f":0.932},{"p":0.954,"f":0.932},{"p":0.958,"f":0.924},{"p":0.962,"f":0.923},{"p":0.966,"f":0.911},{"p":0.97,"f":0.913},{"p":0.974,"f":0.9},{"p":0.978,"f":0.896},{"p":0.982,"f":0.885},{"p":0.986,"f":0.887},{"p":0.99,"f":0.874},{"p":0.994,"f":0.871},{"p":0.998,"f":0.859}
],
"ii": [
{"p":0,"f":0.971},{"p":0.002,"f":0.961},{"p":0.008,"f":0.952},{"p":0.012,"f":0.95},{"p":0.01,"f":0.937},{"p":0.015,"f":0.931},{"p":0.018,"f":0.928},{"p":0.021,"f":0.925},{"p":0.024,"f":0.919},{"p":0.026,"f":0.915},{"p":0.03,"f":0.914},{"p":0.034,"f":0.91},{"p":0.038,"f":0.907},{"p":0.041,"f":0.909},{"p":0.045,"f":0.906},{"p":0.05,"f":0.915},{"p":0.053,"f":0.91},{"p":0.056,"f":0.914},{"p":0.058,"f":0.922},{"p":0.061,"f":0.93},{"p":0.063,"f":0.926},{"p":0.066,"f":0.938},{"p":0.068,"f":0.944},{"p":0.07,"f":0.95},{"p":0.073,"f":0.955},{"p":0.085,"f":0.977},{"p":0.096,"f":0.986},{"p":0.098,"f":0.993},{"p":0.104,"f":1.002},{"p":0.107,"f":1.008},{"p":0.11,"f":1.01},{"p":0.112,"f":1.003},{"p":0.116,"f":1.006},
{"p":0.12,"f":1.009},{"p":0.124,"f":1.001},{"p":0.128,"f":1.013},{"p":0.132,"f":1.005},{"p":0.136,"f":1.008},{"p":0.14,"f":1.001},{"p":0.144,"f":1.012},{"p":0.148,"f":1.009},{"p":0.152,"f":1.006},{"p":0.156,"f":1.016},{"p":0.16,"f":1.006},{"p":0.164,"f":1.012},{"p":0.168,"f":1.001},{"p":0.172,"f":1.015},{"p":0.176,"f":1.01},{"p":0.18,"f":1.014},{"p":0.184,"f":1.005},{"p":0.188,"f":1.019},{"p":0.192,"f":1.01},{"p":0.196,"f":1.016},{"p":0.2,"f":1.007},{"p":0.204,"f":1.013},{"p":0.208,"f":1.018},{"p":0.212,"f":1.009},{"p":0.216,"f":1.013},{"p":0.22,"f":1.005},{"p":0.224,"f":1.018},{"p":0.228,"f":1.011},{"p":0.232,"f":1.016},{"p":0.236,"f":1.009},{"p":0.24,"f":1.021},{"p":0.244,"f":1.013},{"p":0.248,"f":1.016},{"p":0.252,"f":1.008},{"p":0.256,"f":1.018},{"p":0.26,"f":1.002},{"p":0.264,"f":1.017},{"p":0.268,"f":1.019},{"p":0.272,"f":1.011},{"p":0.276,"f":1.016},{"p":0.28,"f":1.018},{"p":0.284,"f":1.01},{"p":0.288,"f":1.021},{"p":0.292,"f":1.013},{"p":0.296,"f":1.016},{"p":0.3,"f":1.008},{"p":0.304,"f":1.019},{"p":0.308,"f":1.015},{"p":0.312,"f":1.012},{"p":0.316,"f":1.022},{"p":0.32,"f":1.011},{"p":0.324,"f":1.017},{"p":0.328,"f":1.007},{"p":0.332,"f":1.021},{"p":0.336,"f":1.015},{"p":0.34,"f":1.019},{"p":0.344,"f":1.01},{"p":0.348,"f":1.024},{"p":0.352,"f":1.014},{"p":0.356,"f":1.02},{"p":0.36,"f":1.011},{"p":0.364,"f":1.017},{"p":0.368,"f":1.022},{"p":0.372,"f":1.013},{"p":0.376,"f":1.016},{"p":0.38,"f":1.007},{"p":0.384,"f":1.02},{"p":0.388,"f":1.013},{"p":0.392,"f":1.018},{"p":0.396,"f":1.011},{"p":0.4,"f":1.022},{"p":0.404,"f":1.014},{"p":0.408,"f":1.016},{"p":0.412,"f":1.008},{"p":0.416,"f":1.018},{"p":0.42,"f":1.002},{"p":0.424,"f":1.017},{"p":0.428,"f":1.018},{"p":0.432,"f":1.01},{"p":0.436,"f":1.014},
{"p":0.44,"f":1.016},{"p":0.446,"f":1.01},{"p":0.452,"f":1.013},{"p":0.456,"f":1.019},{"p":0.46,"f":1.01},{"p":0.464,"f":1.014},{"p":0.468,"f":1.006},{"p":0.472,"f":1.009},{"p":0.476,"f":1.001},{"p":0.478,"f":0.998},{"p":0.482,"f":1.004},{"p":0.486,"f":0.996},{"p":0.49,"f":0.99},{"p":0.494,"f":0.993},{"p":0.505,"f":0.981},{"p":0.512,"f":0.97},{"p":0.516,"f":0.966},{"p":0.519,"f":0.96},{"p":0.524,"f":0.954},{"p":0.528,"f":0.951},{"p":0.532,"f":0.946},{"p":0.537,"f":0.948},{"p":0.55,"f":0.957},{"p":0.554,"f":0.953},{"p":0.56,"f":0.958},{"p":0.566,"f":0.968},{"p":0.571,"f":0.965},{"p":0.576,"f":0.982},{"p":0.603,"f":0.99},{"p":0.61,"f":1.004},{"p":0.613,"f":1.01},{"p":0.617,"f":1},{"p":0.621,"f":1.015},{"p":0.625,"f":1.006},{"p":0.629,"f":1.012},{"p":0.633,"f":1.004},
{"p":0.637,"f":1.014},{"p":0.641,"f":1.006},{"p":0.645,"f":1.017},{"p":0.649,"f":1.009},{"p":0.653,"f":1.012},{"p":0.657,"f":1.004},{"p":0.661,"f":1.016},{"p":0.665,"f":1.012},{"p":0.669,"f":1.009},{"p":0.673,"f":1.019},{"p":0.677,"f":1.008},{"p":0.681,"f":1.014},{"p":0.685,"f":1.003},{"p":0.689,"f":1.018},{"p":0.693,"f":1.012},{"p":0.697,"f":1.016},{"p":0.701,"f":1.007},{"p":0.705,"f":1.021},{"p":0.709,"f":1.011},{"p":0.713,"f":1.017},{"p":0.717,"f":1.008},{"p":0.721,"f":1.014},{"p":0.725,"f":1.02},{"p":0.729,"f":1.011},{"p":0.733,"f":1.014},{"p":0.737,"f":1.006},{"p":0.741,"f":1.019},{"p":0.745,"f":1.012},{"p":0.749,"f":1.017},{"p":0.753,"f":1.01},{"p":0.757,"f":1.021},{"p":0.761,"f":1.013},{"p":0.765,"f":1.016},{"p":0.769,"f":1.008},{"p":0.773,"f":1.018},{"p":0.777,"f":1.002},{"p":0.781,"f":1.017},{"p":0.785,"f":1.018},{"p":0.789,"f":1.01},{"p":0.793,"f":1.014},{"p":0.797,"f":1.016},{"p":0.801,"f":1.008},{"p":0.805,"f":1.019},{"p":0.809,"f":1.011},{"p":0.813,"f":1.014},{"p":0.817,"f":1.006},{"p":0.821,"f":1.017},{"p":0.825,"f":1.012},{"p":0.829,"f":1.009},{"p":0.833,"f":1.019},{"p":0.837,"f":1.008},{"p":0.841,"f":1.014},{"p":0.845,"f":1.003},{"p":0.849,"f":1.017},{"p":0.853,"f":1.011},{"p":0.857,"f":1.015},{"p":0.861,"f":1.006},{"p":0.865,"f":1.02},{"p":0.869,"f":1.009},{"p":0.873,"f":1.015},{"p":0.877,"f":1.006},{"p":0.881,"f":1.012},{"p":0.885,"f":1.017},{"p":0.889,"f":1.008},{"p":0.893,"f":1.011},{"p":0.897,"f":1.003},{"p":0.901,"f":1.016},{"p":0.905,"f":1.008},{"p":0.909,"f":1.013},{"p":0.913,"f":1.006},
{"p":0.943,"f":1.004},{"p":0.947,"f":1.006},{"p":0.951,"f":1.003},{"p":0.955,"f":1.005},{"p":0.966,"f":0.996},{"p":0.97,"f":0.998},{"p":0.973,"f":1.007},{"p":0.98,"f":0.995},{"p":0.984,"f":0.997},{"p":0.996,"f":0.963}
]
},
"layer": [
 {"data": {"name": "iv"}, "mark": {"type": "point", "filled": true, "opacity": 1, "size": 28},
  "encoding": {
   "x": {"field": "p", "type": "quantitative", "scale": {"domain": [0, 1], "nice": false, "zero": false}, "axis": {"title": "Phase", "values": [0, 0.2, 0.4, 0.6, 0.8, 1], "format": ".1f", "titlePadding": 0, "labelPadding": 1}},
   "y": {"field": "f", "type": "quantitative", "scale": {"domain": [0.8, 1.075], "nice": false, "zero": false}, "axis": {"title": "Normalized flux", "values": [0.8, 0.85, 0.9, 0.95, 1.0, 1.05], "format": ".2f", "titlePadding": 0}},
   "color": {"datum": "OGLE-IV", "type": "nominal", "title": null, "scale": {"domain": ["OGLE-IV", "OGLE-III", "OGLE-II"], "range": ["#0000ff", "#ff0000", "#008000"]}, "legend": {"orient": "none", "legendX": 7, "legendY": 7, "title": null}},
   "shape": {"datum": "OGLE-IV", "type": "nominal", "title": null, "scale": {"domain": ["OGLE-IV", "OGLE-III", "OGLE-II"], "range": ["circle", "square", "triangle-down"]}, "legend": {"orient": "none", "legendX": 7, "legendY": 7, "title": null}}
  }},
 {"data": {"name": "iii"}, "mark": {"type": "point", "filled": true, "opacity": 1, "size": 25},
  "encoding": {
   "x": {"field": "p", "type": "quantitative"},
   "y": {"field": "f", "type": "quantitative"},
   "color": {"datum": "OGLE-III", "type": "nominal", "title": null},
   "shape": {"datum": "OGLE-III", "type": "nominal", "title": null}
  }},
 {"data": {"name": "ii"}, "mark": {"type": "point", "filled": true, "opacity": 1, "size": 30},
  "encoding": {
   "x": {"field": "p", "type": "quantitative"},
   "y": {"field": "f", "type": "quantitative"},
   "color": {"datum": "OGLE-II", "type": "nominal", "title": null},
   "shape": {"datum": "OGLE-II", "type": "nominal", "title": null}
  }}
]
}
